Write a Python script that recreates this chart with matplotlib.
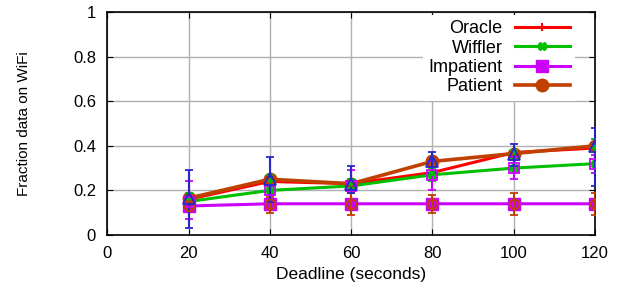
import matplotlib
matplotlib.use("Agg")
import matplotlib.pyplot as plt
import numpy as np

plt.rcParams['font.family'] = ['Liberation Sans', 'DejaVu Sans']

deadline = [20, 40, 60, 80, 100, 120]

oracle = [0.16, 0.24, 0.23, 0.28, 0.37, 0.39]
oracle_lo = [0.14, 0.22, 0.21, 0.24, 0.34, 0.37]
oracle_hi = [0.19, 0.27, 0.25, 0.30, 0.38, 0.43]

wiffler = [0.15, 0.20, 0.22, 0.27, 0.30, 0.32]
wiffler_lo = [0.07, 0.18, 0.20, 0.20, 0.25, 0.28]
wiffler_hi = [0.24, 0.22, 0.29, 0.33, 0.35, 0.36]

impatient = [0.13, 0.14, 0.14, 0.14, 0.14, 0.14]
impatient_lo = [0.12, 0.10, 0.09, 0.10, 0.09, 0.09]
impatient_hi = [0.145, 0.17, 0.19, 0.18, 0.19, 0.19]

patient = [0.165, 0.25, 0.23, 0.33, 0.365, 0.40]
patient_lo = [0.03, 0.15, 0.19, 0.28, 0.31, 0.22]
patient_hi = [0.29, 0.35, 0.31, 0.37, 0.41, 0.48]

red = '#ff0000'
green = '#00c000'
purple = '#cc00ff'
brown = '#c04000'
blue = '#2828c8'

fig = plt.figure(figsize=(6.27, 2.93), dpi=100)
ax = fig.add_axes([0.171, 0.198, 0.778, 0.761])

x = np.array(deadline)
ax.plot(x, oracle, color=red, lw=2.2, marker='+', ms=6, mew=1.5, label='Oracle', zorder=3)
ax.plot(x, wiffler, color=green, lw=2.2, marker='X', ms=6, label='Wiffler', zorder=3)
ax.plot(x, impatient, color=purple, lw=2.2, marker='s', ms=9, label='Impatient', zorder=3)
ax.plot(x, patient, color=brown, lw=2.6, marker='o', ms=9, label='Patient', zorder=4)


def errbars(y, lo, hi, color, marker, ms):
    y = np.array(y)
    err = [y - np.array(lo), np.array(hi) - y]
    ax.errorbar(x, y, yerr=err, fmt=marker, color=color, mfc='none', ms=ms, mew=1.3,
                elinewidth=1.5, capsize=3, capthick=1.3, zorder=5)


errbars(oracle, oracle_lo, oracle_hi, green, '+', 5)
errbars(wiffler, wiffler_lo, wiffler_hi, purple, 's', 7)
errbars(impatient, impatient_lo, impatient_hi, brown, 'o', 7)
errbars(patient, patient_lo, patient_hi, blue, '^', 8)

ax.set_xlim(0, 120)
ax.set_ylim(0, 1)
ax.set_xticks([0, 20, 40, 60, 80, 100, 120])
ax.set_yticks([0, 0.2, 0.4, 0.6, 0.8, 1])
ax.set_yticklabels(['0', '0.2', '0.4', '0.6', '0.8', '1'])
ax.tick_params(direction='in', length=4, top=True, right=True, labelsize=12, pad=8)
ax.grid(True, color='#b0b0b0', lw=1)
for s in ax.spines.values():
    s.set_linewidth(1.2)

ax.set_xlabel('Deadline (seconds)', fontsize=12.5, labelpad=4)
ax.set_ylabel('Fraction data on WiFi', fontsize=11, labelpad=30)

leg = ax.legend(loc='upper right', bbox_to_anchor=(584 / 627, 1 - 6 / 293),
                bbox_transform=fig.transFigure, markerfirst=False, fontsize=13,
                handlelength=3.0, handletextpad=0.7, labelspacing=0.13, borderpad=0.3,
                frameon=True, fancybox=False, framealpha=1, edgecolor='none')
leg.set_zorder(10)

fig.savefig('out.png', dpi=100)
